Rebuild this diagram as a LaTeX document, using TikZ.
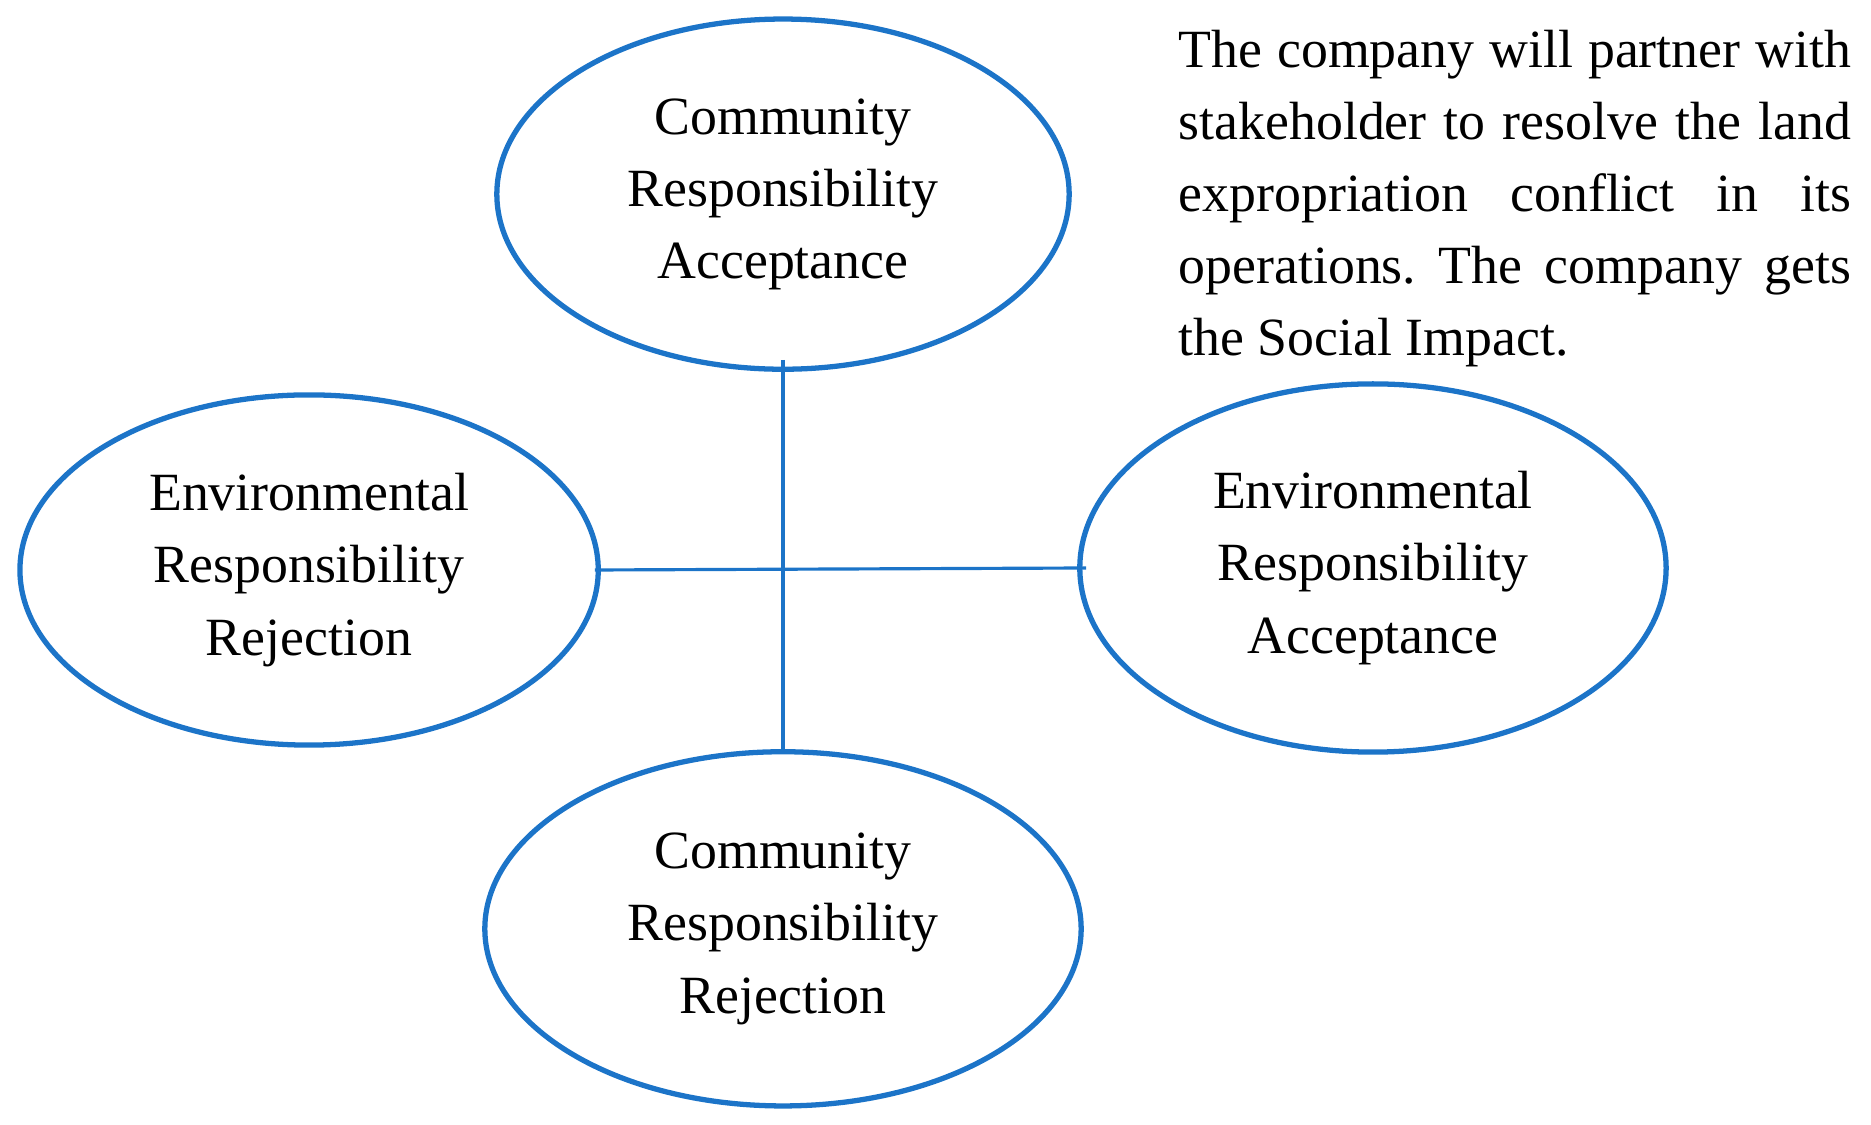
\documentclass[tikz,border=0pt]{standalone}
\usepackage{fontspec}
\setmainfont{Liberation Serif}
\usepackage{xcolor}
\usetikzlibrary{positioning, shapes.geometric}

\definecolor{ovalblue}{RGB}{28,116,200}

\begin{document}
\frenchspacing
\begin{tikzpicture}[
    x=0.01cm, y=-0.01cm,
    every node/.style={align=center, font=\fontsize{15.3}{20.5}\selectfont},
    oval/.style={ellipse, draw=ovalblue, line width=1.5pt, inner sep=0pt,
        execute at begin node={\rule{0pt}{15pt}}},
    link/.style={draw=ovalblue, line width=0.9pt},
    note/.style={text width=6.72cm, align=justify, inner sep=0pt}
]
\useasboundingbox (0,0) rectangle (1871,1125);

% Where the two axes cross
\coordinate (hub) at (783,568);

% Community axis
\node[oval, minimum width=5.72cm, minimum height=3.5cm, above=1.96cm of hub] (comacc) {Community\\Responsibility\\Acceptance};
\node[oval, minimum width=5.96cm, minimum height=3.54cm, below=1.81cm of hub] (comrej) {Community\\Responsibility\\Rejection};

% Environmental axis
\node[oval, minimum width=5.78cm, minimum height=3.5cm, left=1.82cm of hub, yshift=-0.02cm] (envrej) {Environmental\\Responsibility\\Rejection};
\node[oval, minimum width=5.86cm, minimum height=3.68cm, right=2.94cm of hub] (envacc) {Environmental\\Responsibility\\Acceptance};

\draw[link] ([yshift=0.12cm]comacc.south) -- ([yshift=-0.03cm]comrej.north);
\draw[link] ([xshift=-0.06cm]envrej.east) -- ([xshift=0.09cm]envacc.west);

% Side note
\node[note, anchor=north west] (note) at (1178,29) {\tolerance=10000 The company will partner with\linebreak stakeholder to resolve the land\linebreak expropriation conflict in its\linebreak operations. The company gets\linebreak the Social Impact.};

\end{tikzpicture}
\end{document}
